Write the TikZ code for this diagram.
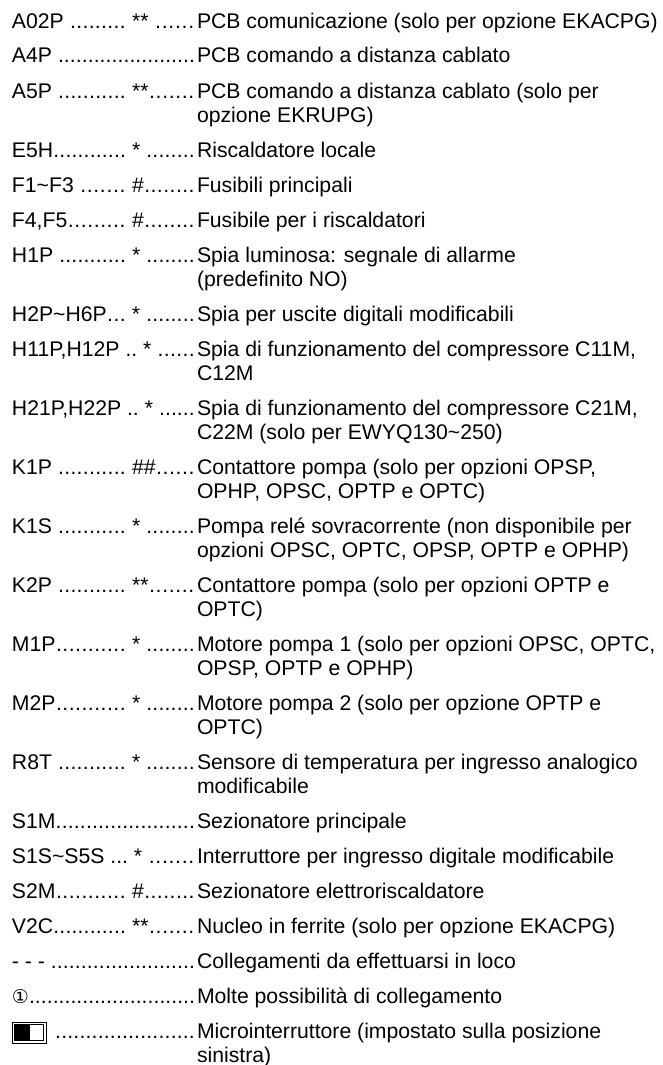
\documentclass[tikz,border=0pt]{standalone}
\usepackage{fontspec}
\setmainfont{Liberation Sans}
\newfontfamily\symfnt{DejaVu Sans}
\newcommand\tl{\textasciitilde}
% standard label: name, dots, symbol at fixed column, dots
\newcommand\lblS[2]{\hbox to 183pt{\hbox to 120pt{#1\xleaders\hbox{.}\hfill\ }#2\xleaders\hbox{.}\hfill}}
% long label: literal prefix, symbol, dots
\newcommand\lblL[2]{\hbox to 183pt{#1\ #2\xleaders\hbox{.}\hfill}}
% label without symbol
\newcommand\lblN[1]{\hbox to 183pt{#1\xleaders\hbox{.}\hfill}}
\tikzset{
  txt/.style={anchor=base west, inner sep=0pt, outer sep=0pt,
    font=\fontsize{21.2}{24}\selectfont},
  swbox/.style={draw, line width=0.7pt, inner sep=0pt, outer sep=0pt, anchor=north west}
}
\begin{document}
\begin{tikzpicture}[x=1pt, y=-1pt]
\useasboundingbox (0,0) rectangle (663,1065);
\def\D{197}
% 1
\node[txt] (l1) at (12,29) {\lblS{A02P\ }{**\ }};
\node[txt] (d1) at (\D,29) {PCB comunicazione (solo per opzione EKACPG)};
% 2
\node[txt] (l2) at (12,63) {\lblN{A4P\ }};
\node[txt] (d2) at (\D,63) {PCB comando a distanza cablato};
% 3
\node[txt] (l3) at (12,98) {\lblS{A5P\ }{**}};
\node[txt] (d3a) at (\D,98) {PCB comando a distanza cablato (solo per};
\node[txt] (d3b) at (\D,122) {opzione EKRUPG)};
% 4
\node[txt] (l4) at (12,157) {\lblS{E5H}{*\ }};
\node[txt] (d4) at (\D,157) {Riscaldatore locale};
% 5
\node[txt] (l5) at (12,192) {\lblS{F1\tl F3\ }{\#}};
\node[txt] (d5) at (\D,192) {Fusibili principali};
% 6
\node[txt] (l6) at (12,227) {\lblS{F4,F5}{\#}};
\node[txt] (d6) at (\D,227) {Fusibile per i riscaldatori};
% 7
\node[txt] (l7) at (12,262) {\lblS{H1P\ }{*\ }};
\node[txt] (d7a) at (\D,262) {Spia luminosa: segnale di allarme};
\node[txt] (d7b) at (\D,286) {(predefinito NO)};
% 8
\node[txt] (l8) at (12,321) {\lblS{H2P\tl H6P}{*\ }};
\node[txt] (d8) at (\D,321) {Spia per uscite digitali modificabili};
% 9
\node[txt] (l9) at (12,356) {\lblL{H11P,H12P ..}{*\ }};
\node[txt] (d9a) at (\D,356) {Spia di funzionamento del compressore C11M,};
\node[txt] (d9b) at (\D,380) {C12M};
% 10
\node[txt] (l10) at (12,415) {\lblL{H21P,H22P ..}{*\ }};
\node[txt] (d10a) at (\D,415) {Spia di funzionamento del compressore C21M,};
\node[txt] (d10b) at (\D,439) {C22M (solo per EWYQ130\tl 250)};
% 11
\node[txt] (l11) at (12,474) {\lblS{K1P\ }{\#\#}};
\node[txt] (d11a) at (\D,474) {Contattore pompa (solo per opzioni OPSP,};
\node[txt] (d11b) at (\D,498) {OPHP, OPSC, OPTP e OPTC)};
% 12
\node[txt] (l12) at (12,533) {\lblS{K1S\ }{*\ }};
\node[txt] (d12a) at (\D,533) {Pompa relé sovracorrente (non disponibile per};
\node[txt] (d12b) at (\D,557) {opzioni OPSC, OPTC, OPSP, OPTP e OPHP)};
% 13
\node[txt] (l13) at (12,592) {\lblS{K2P\ }{**}};
\node[txt] (d13a) at (\D,592) {Contattore pompa (solo per opzioni OPTP e};
\node[txt] (d13b) at (\D,616) {OPTC)};
% 14
\node[txt] (l14) at (12,651) {\lblS{M1P}{*\ }};
\node[txt] (d14a) at (\D,651) {Motore pompa 1 (solo per opzioni OPSC, OPTC,};
\node[txt] (d14b) at (\D,675) {OPSP, OPTP e OPHP)};
% 15
\node[txt] (l15) at (12,710) {\lblS{M2P}{*\ }};
\node[txt] (d15a) at (\D,710) {Motore pompa 2 (solo per opzione OPTP e};
\node[txt] (d15b) at (\D,734) {OPTC)};
% 16
\node[txt] (l16) at (12,769) {\lblS{R8T\ }{*\ }};
\node[txt] (d16a) at (\D,769) {Sensore di temperatura per ingresso analogico};
\node[txt] (d16b) at (\D,793) {modificabile};
% 17
\node[txt] (l17) at (12,828) {\lblN{S1M}};
\node[txt] (d17) at (\D,828) {Sezionatore principale};
% 18
\node[txt] (l18) at (12,863) {\lblL{S1S\tl S5S ...}{*\ }};
\node[txt] (d18) at (\D,863) {Interruttore per ingresso digitale modificabile};
% 19
\node[txt] (l19) at (12,898) {\lblS{S2M}{\#}};
\node[txt] (d19) at (\D,898) {Sezionatore elettroriscaldatore};
% 20
\node[txt] (l20) at (12,933) {\lblS{V2C}{**}};
\node[txt] (d20) at (\D,933) {Nucleo in ferrite (solo per opzione EKACPG)};
% 21
\node[txt] (l21) at (12,968) {\lblN{- - -\ }};
\node[txt] (d21) at (\D,968) {Collegamenti da effettuarsi in loco};
% 22
\node[txt] (l22) at (12,1003) {\lblN{{\symfnt\fontsize{19}{24}\selectfont ①}}};
\node[txt] (d22) at (\D,1003) {Molte possibilità di collegamento};
% 23 micro switch
\node[swbox, minimum width=34pt, minimum height=21pt] (sw) at (12,1022) {};
\node[swbox, minimum width=28.6pt, minimum height=16.4pt, line width=0.6pt] (swin) at (14.7,1024.3) {};
\fill (15.3,1025) rectangle (30,1040);
\node[txt] (l23) at (55,1038) {\hbox to 140pt{\xleaders\hbox{.}\hfill}};
\node[txt] (d23a) at (\D,1038) {Microinterruttore (impostato sulla posizione};
\node[txt] (d23b) at (\D,1062) {sinistra)};
\end{tikzpicture}
\end{document}
